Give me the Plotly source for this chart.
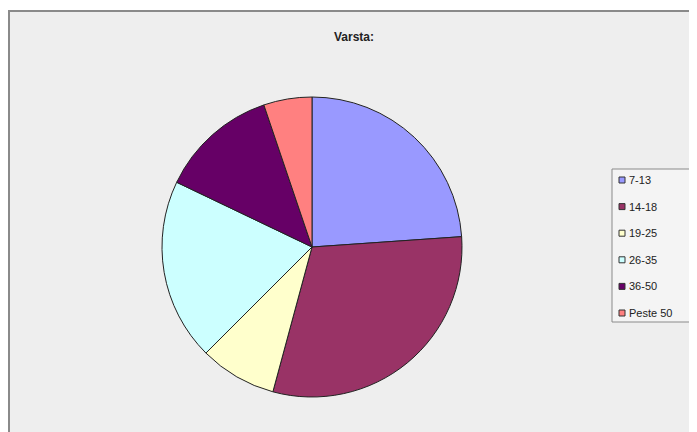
import plotly.graph_objects as go

categories = ["7-13", "14-18", "19-25", "26-35", "36-50", "Peste 50"]
values = [23.9, 30.3, 8.3, 19.6, 12.7, 5.2]
colors = ["#9999FF", "#993366", "#FFFFCC", "#CCFFFF", "#660066", "#FF8080"]
title_text = "Varsta:"

W, H = 697, 432
OFF = 8  # default page body margin of the html output

def px(x):
    return (x - OFF) / W

def py(y):
    return 1 - (y - OFF) / H

cx, cy, r = 312, 247, 150

fig = go.Figure()
fig.add_trace(go.Pie(
    labels=categories,
    values=values,
    sort=False,
    direction="clockwise",
    rotation=0,
    marker=dict(colors=colors, line=dict(color="#222222", width=1)),
    textinfo="none",
    hoverinfo="label+percent",
    showlegend=False,
    domain=dict(x=[px(cx - r), px(cx + r)], y=[py(cy + r), py(cy - r)]),
))

shapes = [
    # chart area
    dict(type="rect", xref="paper", yref="paper", x0=px(9), x1=px(720), y0=py(460), y1=py(11),
         fillcolor="#EEEEEE", line=dict(color="#8A8A8A", width=2), layer="below"),
    # legend box
    dict(type="rect", xref="paper", yref="paper", x0=px(612), x1=px(720), y0=py(322), y1=py(169),
         fillcolor="#F4F4F4", line=dict(color="#8A8A8A", width=1), layer="below"),
]
annotations = [
    dict(text="<b>" + title_text + "</b>", xref="paper", yref="paper", x=px(354), y=py(37),
         showarrow=False, font=dict(family="Arial, Liberation Sans", size=12, color="#222222"),
         xanchor="center", yanchor="middle"),
]
y0 = 180
step = 26.6
for i, (lab, col) in enumerate(zip(categories, colors)):
    yy = y0 + i * step
    shapes.append(dict(type="rect", xref="paper", yref="paper",
                       x0=px(619), x1=px(625), y0=py(yy + 3), y1=py(yy - 3),
                       fillcolor=col, line=dict(color="#333333", width=1)))
    annotations.append(dict(text=lab, xref="paper", yref="paper", x=px(627), y=py(yy),
                            showarrow=False, xanchor="left", yanchor="middle",
                            font=dict(family="Arial, Liberation Sans", size=11, color="#222222")))

fig.update_layout(
    width=W, height=H,
    margin=dict(l=0, r=0, t=0, b=0),
    paper_bgcolor="white",
    plot_bgcolor="white",
    shapes=shapes,
    annotations=annotations,
    showlegend=False,
)

fig.write_html("out.html")
